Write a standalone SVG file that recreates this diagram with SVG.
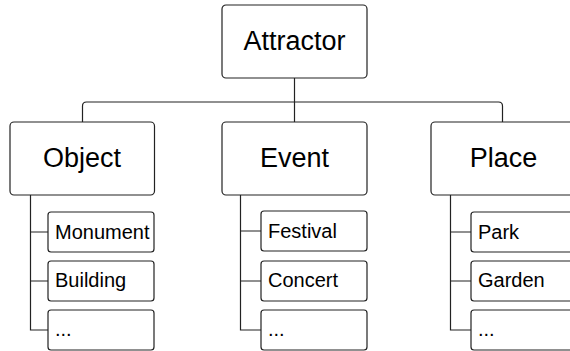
<svg xmlns="http://www.w3.org/2000/svg" width="570" height="351" viewBox="0 0 570 351">
  <style>
    .box { fill: #ffffff; stroke: #222222; stroke-width: 1.2; }
    .wire { fill: none; stroke: #222222; stroke-width: 1.2; }
    .big { font-family: "Liberation Sans", Arial, sans-serif; font-size: 27px; fill: #000000; text-anchor: middle; }
    .small { font-family: "Liberation Sans", Arial, sans-serif; font-size: 20px; fill: #000000; }
  </style>
  <rect width="570" height="351" fill="#ffffff"/>

  <!-- connectors -->
  <g id="connectors" class="wire">
    <path d="M294.5 78 V122"/>
    <path d="M82.5 122 V106 Q82.5 102 86.5 102 H498.5 Q502.5 102 502.5 106 V122"/>
    <path d="M30.5 195 V330 H48 M30.5 232 H48 M30.5 281 H48"/>
    <path d="M240.5 195 V330 H261 M240.5 231 H261 M240.5 281 H261"/>
    <path d="M450.5 195 V330 H471 M450.5 232 H471 M450.5 281 H471"/>
  </g>

  <g id="attractor">
    <rect class="box" x="222" y="5" width="145" height="73" rx="4"/>
    <text class="big" x="294.5" y="50">Attractor</text>
  </g>

  <g id="object">
    <rect class="box" x="10" y="122" width="144.5" height="73" rx="4"/>
    <text class="big" x="82" y="166.5">Object</text>
  </g>
  <g id="event">
    <rect class="box" x="222" y="122" width="145" height="73" rx="4"/>
    <text class="big" x="294.5" y="166.5">Event</text>
  </g>
  <g id="place">
    <rect class="box" x="431" y="122" width="145" height="73" rx="4"/>
    <text class="big" x="503.5" y="166.5">Place</text>
  </g>

  <g id="monument">
    <rect class="box" x="48" y="212" width="106" height="40" rx="3"/>
    <text class="small" x="55" y="239">Monument</text>
  </g>
  <g id="building">
    <rect class="box" x="48" y="261" width="106" height="40" rx="3"/>
    <text class="small" x="55" y="287">Building</text>
  </g>
  <g id="object-more">
    <rect class="box" x="48" y="310" width="106" height="40" rx="3"/>
    <text class="small" x="55" y="336">...</text>
  </g>

  <g id="festival">
    <rect class="box" x="261" y="211" width="106" height="40" rx="3"/>
    <text class="small" x="268" y="238">Festival</text>
  </g>
  <g id="concert">
    <rect class="box" x="261" y="261" width="106" height="40" rx="3"/>
    <text class="small" x="268" y="287">Concert</text>
  </g>
  <g id="event-more">
    <rect class="box" x="261" y="310" width="106" height="40" rx="3"/>
    <text class="small" x="268" y="336">...</text>
  </g>

  <g id="park">
    <rect class="box" x="471" y="212" width="106" height="40" rx="3"/>
    <text class="small" x="478" y="239">Park</text>
  </g>
  <g id="garden">
    <rect class="box" x="471" y="261" width="106" height="40" rx="3"/>
    <text class="small" x="478" y="287">Garden</text>
  </g>
  <g id="place-more">
    <rect class="box" x="471" y="310" width="106" height="40" rx="3"/>
    <text class="small" x="478" y="336">...</text>
  </g>
</svg>
